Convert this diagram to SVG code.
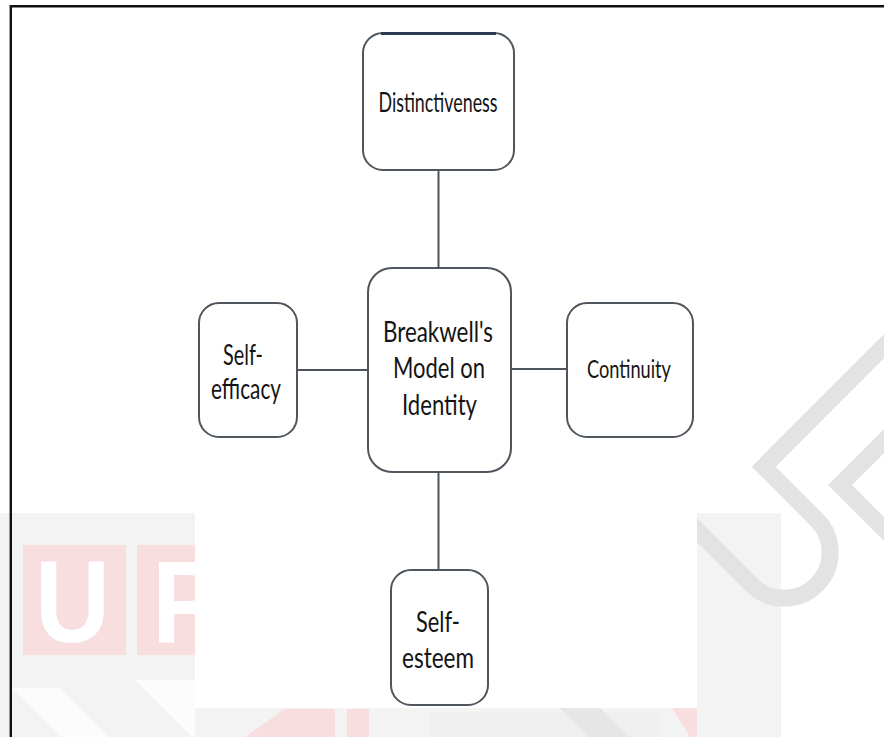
<svg xmlns="http://www.w3.org/2000/svg" width="884" height="737" viewBox="0 0 884 737">
<style>
.box{fill:#ffffff;stroke:#50565e;stroke-width:2}
.lbl{font-family:Lato,"Open Sans","Liberation Sans",sans-serif;fill:#141414;text-anchor:middle}
.conn line{stroke:#4e545b;stroke-width:2}
.wm{fill:none;stroke:#e3e3e3;stroke-width:17}
.wmred{fill:#f8dede}
.wmtxt{font-family:"Liberation Sans",Arial,sans-serif;font-weight:bold;fill:#ffffff}
</style>
<rect width="884" height="737" fill="#ffffff"/>
<g id="watermark">
  <rect x="0" y="513" width="781" height="224" fill="#f3f3f3"/>
  <rect class="wmred" x="23" y="545" width="103" height="110"/>
  <rect class="wmred" x="137" y="545" width="103" height="110"/>
  <text class="wmtxt" x="72.5" y="642" font-size="117" text-anchor="middle" textLength="75" lengthAdjust="spacingAndGlyphs">U</text>
  <text class="wmtxt" x="152" y="642" font-size="117" textLength="70" lengthAdjust="spacingAndGlyphs">P</text>
  <polygon points="12,688 60,688 109,737 61,737" fill="#ffffff" opacity="0.75"/>
  <polygon points="135,680 195,680 195,737 192,737" fill="#ffffff" opacity="0.75"/>
  <polygon class="wmred" points="245,737 285,709 335,709 335,737"/>
  <rect class="wmred" x="347" y="709" width="22" height="28"/>
  <rect x="430" y="712" width="230" height="25" fill="#ececec" opacity="0.6"/>
  <polygon points="560,708 600,708 629,737 589,737" fill="#e6e6e6"/>
  <polygon class="wmred" points="672,708 697,708 697,737 690,737"/>
  <g transform="matrix(0.7071 -0.7071 0.7071 0.7071 0 0)">
    <path class="wm" d="M118 800 L118 945 A46 46 0 0 0 210 945 L210 870 L440 870"/>
    <path class="wm" d="M330 937 L251 937 L251 1070"/>
  </g>
</g>
<rect x="195" y="0" width="502" height="708" fill="#ffffff"/>
<path id="frame" d="M10.8 737 V6.2 H884" fill="none" stroke="#111111" stroke-width="2.4"/>
<g id="connectors" class="conn">
  <line x1="438.5" y1="170" x2="438.5" y2="268"/>
  <line x1="438.5" y1="472" x2="438.5" y2="570"/>
  <line x1="297" y1="370" x2="368" y2="370"/>
  <line x1="511" y1="369" x2="567" y2="369"/>
</g>
<g id="node-distinctiveness">
  <rect class="box" x="363" y="33" width="151" height="137" rx="20"/>
  <line x1="381" y1="33.5" x2="496" y2="33.5" stroke="#2f3b52" stroke-width="3"/>
  <text class="lbl" x="438" y="112" font-size="26" textLength="119" lengthAdjust="spacingAndGlyphs">Distinctiveness</text>
</g>
<g id="node-center">
  <rect class="box" x="368" y="268" width="143" height="204" rx="24"/>
  <text class="lbl" x="438" y="342" font-size="29" textLength="110" lengthAdjust="spacingAndGlyphs">Breakwell's</text>
  <text class="lbl" x="439" y="378" font-size="29" textLength="92" lengthAdjust="spacingAndGlyphs">Model on</text>
  <text class="lbl" x="439.5" y="415" font-size="29" textLength="75" lengthAdjust="spacingAndGlyphs">Identity</text>
</g>
<g id="node-self-efficacy">
  <rect class="box" x="199" y="303" width="98" height="134" rx="20"/>
  <text class="lbl" x="243" y="365" font-size="28" textLength="40" lengthAdjust="spacingAndGlyphs">Self-</text>
  <text class="lbl" x="246" y="399" font-size="28" textLength="70" lengthAdjust="spacingAndGlyphs">efficacy</text>
</g>
<g id="node-continuity">
  <rect class="box" x="567" y="303" width="126" height="134" rx="20"/>
  <text class="lbl" x="629" y="378" font-size="25.5" textLength="84" lengthAdjust="spacingAndGlyphs">Continuity</text>
</g>
<g id="node-self-esteem">
  <rect class="box" x="391" y="570" width="97" height="135" rx="20"/>
  <text class="lbl" x="438" y="632" font-size="29.5" textLength="44" lengthAdjust="spacingAndGlyphs">Self-</text>
  <text class="lbl" x="438" y="668" font-size="29.5" textLength="72" lengthAdjust="spacingAndGlyphs">esteem</text>
</g>
</svg>
